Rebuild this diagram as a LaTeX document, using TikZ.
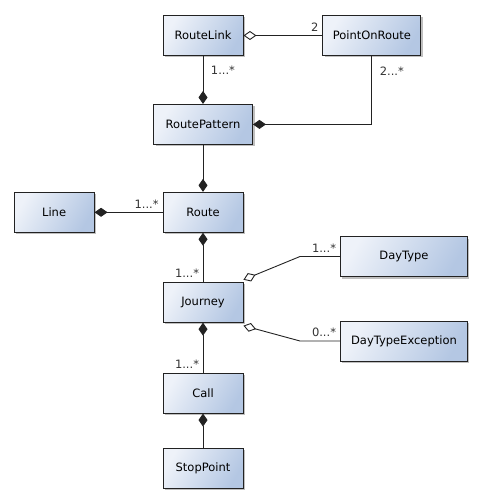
\documentclass[tikz,border=0pt]{standalone}
\usepackage{fontspec}
\setmainfont{DejaVu Sans}
\usetikzlibrary{arrows.meta, positioning, calc, shadows}
\definecolor{boxLight}{HTML}{EEF2F9}
\definecolor{boxDark}{HTML}{B4C7E3}
\definecolor{boxLine}{HTML}{222222}
\definecolor{multGray}{HTML}{333333}

\begin{document}
\begin{tikzpicture}[
    x=1pt, y=-1pt,
    classbox/.style={rectangle, draw=boxLine, line width=0.9pt,
                     shading=axis, left color=boxLight, right color=boxDark,
                     shading angle=60,
                     minimum width=80pt, minimum height=40pt, inner sep=2pt,
                     font=\fontsize{11.5}{13}\selectfont,
                     drop shadow={shadow xshift=2pt, shadow yshift=-2pt,
                                  opacity=0.25, fill=black}},
    assoc/.style={draw=boxLine, line width=0.9pt},
    mult/.style={font=\fontsize{11.5}{13}\selectfont, text=multGray, inner sep=3.5pt},
    comp/.tip={Diamond[length=13pt, width=9pt]},
    aggr/.tip={Diamond[open, length=13pt, width=9pt]},
  ]
    \useasboundingbox (0,0) rectangle (482,502);

    \node[classbox] (routelink) at (203,35.5) {RouteLink};
    \node[classbox, minimum width=98pt, right=79pt of routelink] (pointonroute) {PointOnRoute};
    \node[classbox, minimum width=99pt, below=48pt of routelink] (routepattern) {RoutePattern};
    \node[classbox, below=47pt of routepattern] (route) {Route};
    \node[classbox, left=68pt of route] (line) {Line};
    \node[classbox, below=49pt of route] (journey) {Journey};
    \node[classbox, below=50pt of journey] (call) {Call};
    \node[classbox, below=34pt of call] (stoppoint) {StopPoint};
    \node[classbox, minimum width=127pt, anchor=west] (daytype) at (340,256.5) {DayType};
    \node[classbox, minimum width=127pt, anchor=west] (daytypeexc) at (340,341) {DayTypeException};

    \coordinate (dtbend)  at ($(daytype.west)-(40,0)$);
    \coordinate (dtebend) at ($(daytypeexc.west)-(40,0)$);

    % route structure
    \draw[assoc, aggr-] (routelink.east) -- (pointonroute.west)
      node[mult, pos=1, above left] {2};
    \draw[assoc, -comp] (routelink) -- (routepattern)
      node[mult, pos=0.3, right=4pt] {1...*};
    \draw[assoc, -comp] (pointonroute.south) |- (routepattern.east)
      node[mult, pos=0.11, right=4pt] {2...*};
    \draw[assoc, -comp] (routepattern) -- (route);
    \draw[assoc, comp-] (line) -- (route)
      node[mult, pos=1, above left] {1...*};

    % journeys
    \draw[assoc, comp-] (route) -- (journey)
      node[mult, pos=1, above left] {1...*};
    \draw[assoc, aggr-] ([yshift=2pt]journey.north east) -- (dtbend) -- (daytype.west)
      node[mult, pos=1, above left] {1...*};
    \draw[assoc, aggr-] ([yshift=-3pt]journey.south east) -- (dtebend) -- (daytypeexc.west)
      node[mult, pos=1, above left] {0...*};
    \draw[assoc, comp-] (journey) -- (call)
      node[mult, pos=1, above left] {1...*};
    \draw[assoc, comp-] (call) -- (stoppoint);
\end{tikzpicture}
\end{document}
